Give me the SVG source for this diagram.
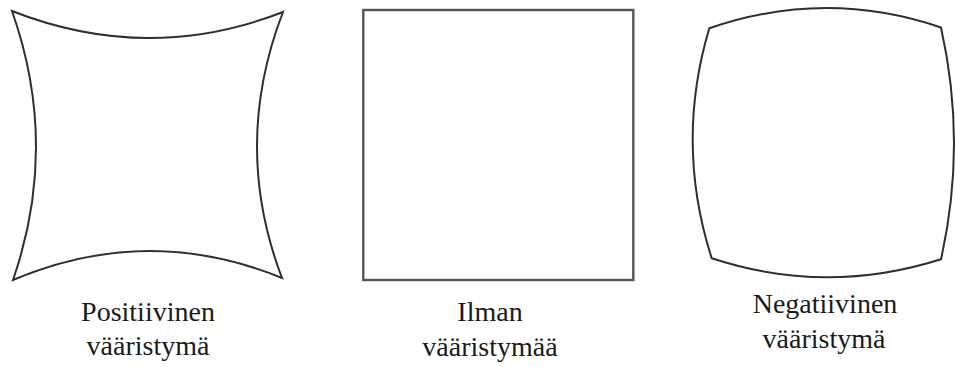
<svg xmlns="http://www.w3.org/2000/svg" width="955" height="367" viewBox="0 0 955 367">
<style>
.shape{fill:none;stroke:#2e2e2e;stroke-width:2;stroke-linejoin:miter}
.sq{fill:none;stroke:#555;stroke-width:2.4}
.lbl{font-family:"Liberation Serif","Times New Roman",serif;font-size:28px;fill:#1a1a1a;text-anchor:middle}
</style>
<rect width="955" height="367" fill="#fff"/>
<g id="positive">
<path class="shape" d="M12,11 Q148,64.5 283,12 Q231.5,145.5 282,278 Q148,223 13,280 Q59.5,145.5 12,11 Z"/>
<text class="lbl" x="148" y="321">Positiivinen</text>
<text class="lbl" x="148" y="355">vääristymä</text>
</g>
<g id="none">
<rect class="sq" x="363.3" y="10" width="270" height="270"/>
<text class="lbl" x="490" y="321">Ilman</text>
<text class="lbl" x="490" y="356">vääristymää</text>
</g>
<g id="negative">
<path class="shape" d="M709.3,28.3 Q825,-11.7 941,27.5 Q967,143.5 941,259.3 Q826,295.8 711.7,258.3 Q674.9,143.5 709.3,28.3 Z"/>
<text class="lbl" x="825" y="313">Negatiivinen</text>
<text class="lbl" x="824" y="348">vääristymä</text>
</g>
</svg>
